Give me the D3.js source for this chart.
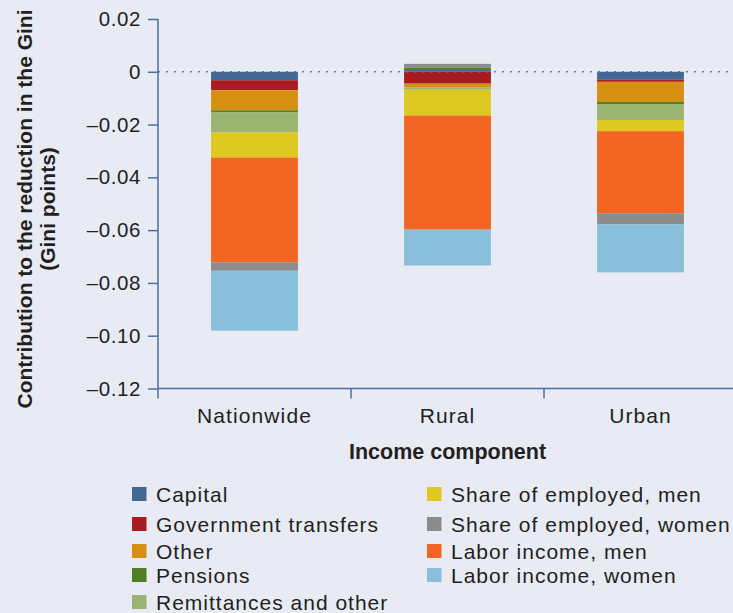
<!DOCTYPE html>
<html>
<head>
<meta charset="utf-8">
<script src="https://cdn.jsdelivr.net/npm/d3@7"></script>
<style>
  html, body { margin: 0; padding: 0; background: #e8ebf3; }
  svg { display: block; font-family: "Liberation Sans", Arial, sans-serif; }
</style>
</head>
<body>
<svg id="chart" width="733" height="613"></svg>
<script>
// ---- data ----
const categories = ["Nationwide", "Rural", "Urban"];
const capital            = [-0.0032,  0.0007, -0.0030];
const governmentTransfers= [-0.0038, -0.0045, -0.0008];
const other              = [-0.0076, -0.0015, -0.0076];
const pensions           = [-0.0008,  0.0008, -0.0008];
const remittancesOther   = [-0.0076, -0.0008, -0.0061];
const shareEmployedMen   = [-0.0095, -0.0098, -0.0042];
const laborIncomeMen     = [-0.0397, -0.0432, -0.0311];
const shareEmployedWomen = [-0.0032,  0.0015, -0.0042];
const laborIncomeWomen   = [-0.0227, -0.0136, -0.0182];
const yTickValues = [0.02, 0, -0.02, -0.04, -0.06, -0.08, -0.10, -0.12];
const yTickLabels = ["0.02", "0", "\u20130.02", "\u20130.04", "\u20130.06", "\u20130.08", "\u20130.10", "\u20130.12"];
const seriesNames = ["Capital", "Government transfers", "Other", "Pensions", "Remittances and other",
  "Share of employed, men", "Labor income, men", "Share of employed, women", "Labor income, women"];
const legendOrder = ["Capital", "Government transfers", "Other", "Pensions", "Remittances and other",
  "Share of employed, men", "Share of employed, women", "Labor income, men", "Labor income, women"];
const yTitle = ["Contribution to the reduction in the Gini", "(Gini points)"];
const xTitle = "Income component";

// ---- styles ----
const colors = {
  "Capital": "#436894",
  "Government transfers": "#a81c21",
  "Other": "#d78f12",
  "Pensions": "#4f7e24",
  "Remittances and other": "#9ab572",
  "Share of employed, men": "#ddc91f",
  "Share of employed, women": "#8c8c8c",
  "Labor income, men": "#f26522",
  "Labor income, women": "#88bfdb"
};
const axisColor = "#4b6f9f";
const textColor = "#231f20";

const seriesValues = [capital, governmentTransfers, other, pensions, remittancesOther,
  shareEmployedMen, laborIncomeMen, shareEmployedWomen, laborIncomeWomen];
const table = categories.map((c, i) => {
  const row = { category: c };
  seriesNames.forEach((s, j) => row[s] = seriesValues[j][i]);
  return row;
});

const svg = d3.select("#chart");
const plotLeft = 158, plotRight = 737, plotTop = 19, plotBottom = 388.5;

const x = d3.scaleBand().domain(categories).range([plotLeft, plotRight]).padding(0);
const y = d3.scaleLinear().domain([-0.12, 0.02]).range([plotBottom, plotTop]);
const barW = x.bandwidth() * 0.45;

const stack = d3.stack().keys(seriesNames).offset(d3.stackOffsetDiverging);
const stacked = stack(table);

// bars
svg.append("g").selectAll("g").data(stacked).join("g")
  .attr("fill", d => colors[d.key])
  .selectAll("rect").data(d => d).join("rect")
  .attr("x", d => x(d.data.category) + (x.bandwidth() - barW) / 2)
  .attr("width", barW)
  .attr("y", d => y(d[1]))
  .attr("height", d => y(d[0]) - y(d[1]));

// zero dotted line
svg.append("line")
  .attr("x1", plotLeft).attr("x2", 733)
  .attr("y1", y(0)).attr("y2", y(0))
  .attr("stroke", "#5b7fad").attr("stroke-width", 1.5)
  .attr("stroke-dasharray", "2,6");

// y axis
const yAxis = d3.axisLeft(y).tickValues(yTickValues)
  .tickFormat((d, i) => yTickLabels[i]).tickSize(10).tickPadding(7);
const gy = svg.append("g").attr("transform", `translate(${plotLeft},0)`).call(yAxis);
gy.select(".domain").remove();
gy.selectAll(".tick line").attr("stroke", axisColor).attr("stroke-width", 1.5);
gy.selectAll(".tick text").attr("fill", textColor)
  .style("font-size", "20.5px").style("letter-spacing", "0.6px");

svg.append("line")
  .attr("x1", plotLeft).attr("x2", plotLeft)
  .attr("y1", plotTop).attr("y2", plotBottom + 10)
  .attr("stroke", axisColor).attr("stroke-width", 1.5);

// x axis line
svg.append("line")
  .attr("x1", plotLeft).attr("x2", 733)
  .attr("y1", plotBottom).attr("y2", plotBottom)
  .attr("stroke", axisColor).attr("stroke-width", 1.5);
categories.slice(1).forEach(c => {
  svg.append("line")
    .attr("x1", x(c)).attr("x2", x(c))
    .attr("y1", plotBottom).attr("y2", plotBottom + 10)
    .attr("stroke", axisColor).attr("stroke-width", 1.5);
});
svg.append("g").selectAll("text").data(categories).join("text")
  .attr("x", d => x(d) + x.bandwidth() / 2)
  .attr("y", 423)
  .attr("text-anchor", "middle")
  .attr("fill", textColor)
  .style("font-size", "21px").style("letter-spacing", "1.1px")
  .text(d => d);

// x title
svg.append("text")
  .attr("x", (plotLeft + plotRight) / 2).attr("y", 459)
  .attr("text-anchor", "middle").attr("fill", textColor)
  .style("font-size", "21.5px").style("font-weight", "bold")
  .text(xTitle);

// y title
const yt = svg.append("text")
  .attr("transform", "translate(25,209) rotate(-90)")
  .attr("text-anchor", "middle").attr("fill", textColor)
  .style("font-size", "21px").style("font-weight", "bold");
yt.append("tspan").attr("x", 0).attr("dy", "0.35em").text(yTitle[0]);
yt.append("tspan").attr("x", 0).attr("dy", "23").text(yTitle[1]);

// legend
const legendRowsY = [494, 524, 551, 575, 602];
const legendColX = [132, 427];
const lg = svg.append("g");
legendOrder.forEach((name, i) => {
  const col = i < 5 ? 0 : 1;
  const row = i < 5 ? i : i - 5;
  const cy = legendRowsY[row];
  lg.append("rect")
    .attr("x", legendColX[col]).attr("y", cy - 7)
    .attr("width", 14.5).attr("height", 14)
    .attr("fill", colors[name]);
  lg.append("text")
    .attr("x", legendColX[col] + 24).attr("y", cy).attr("dy", "0.36em")
    .attr("fill", textColor)
    .style("font-size", "21px").style("letter-spacing", "1px")
    .text(name);
});
</script>
</body>
</html>
